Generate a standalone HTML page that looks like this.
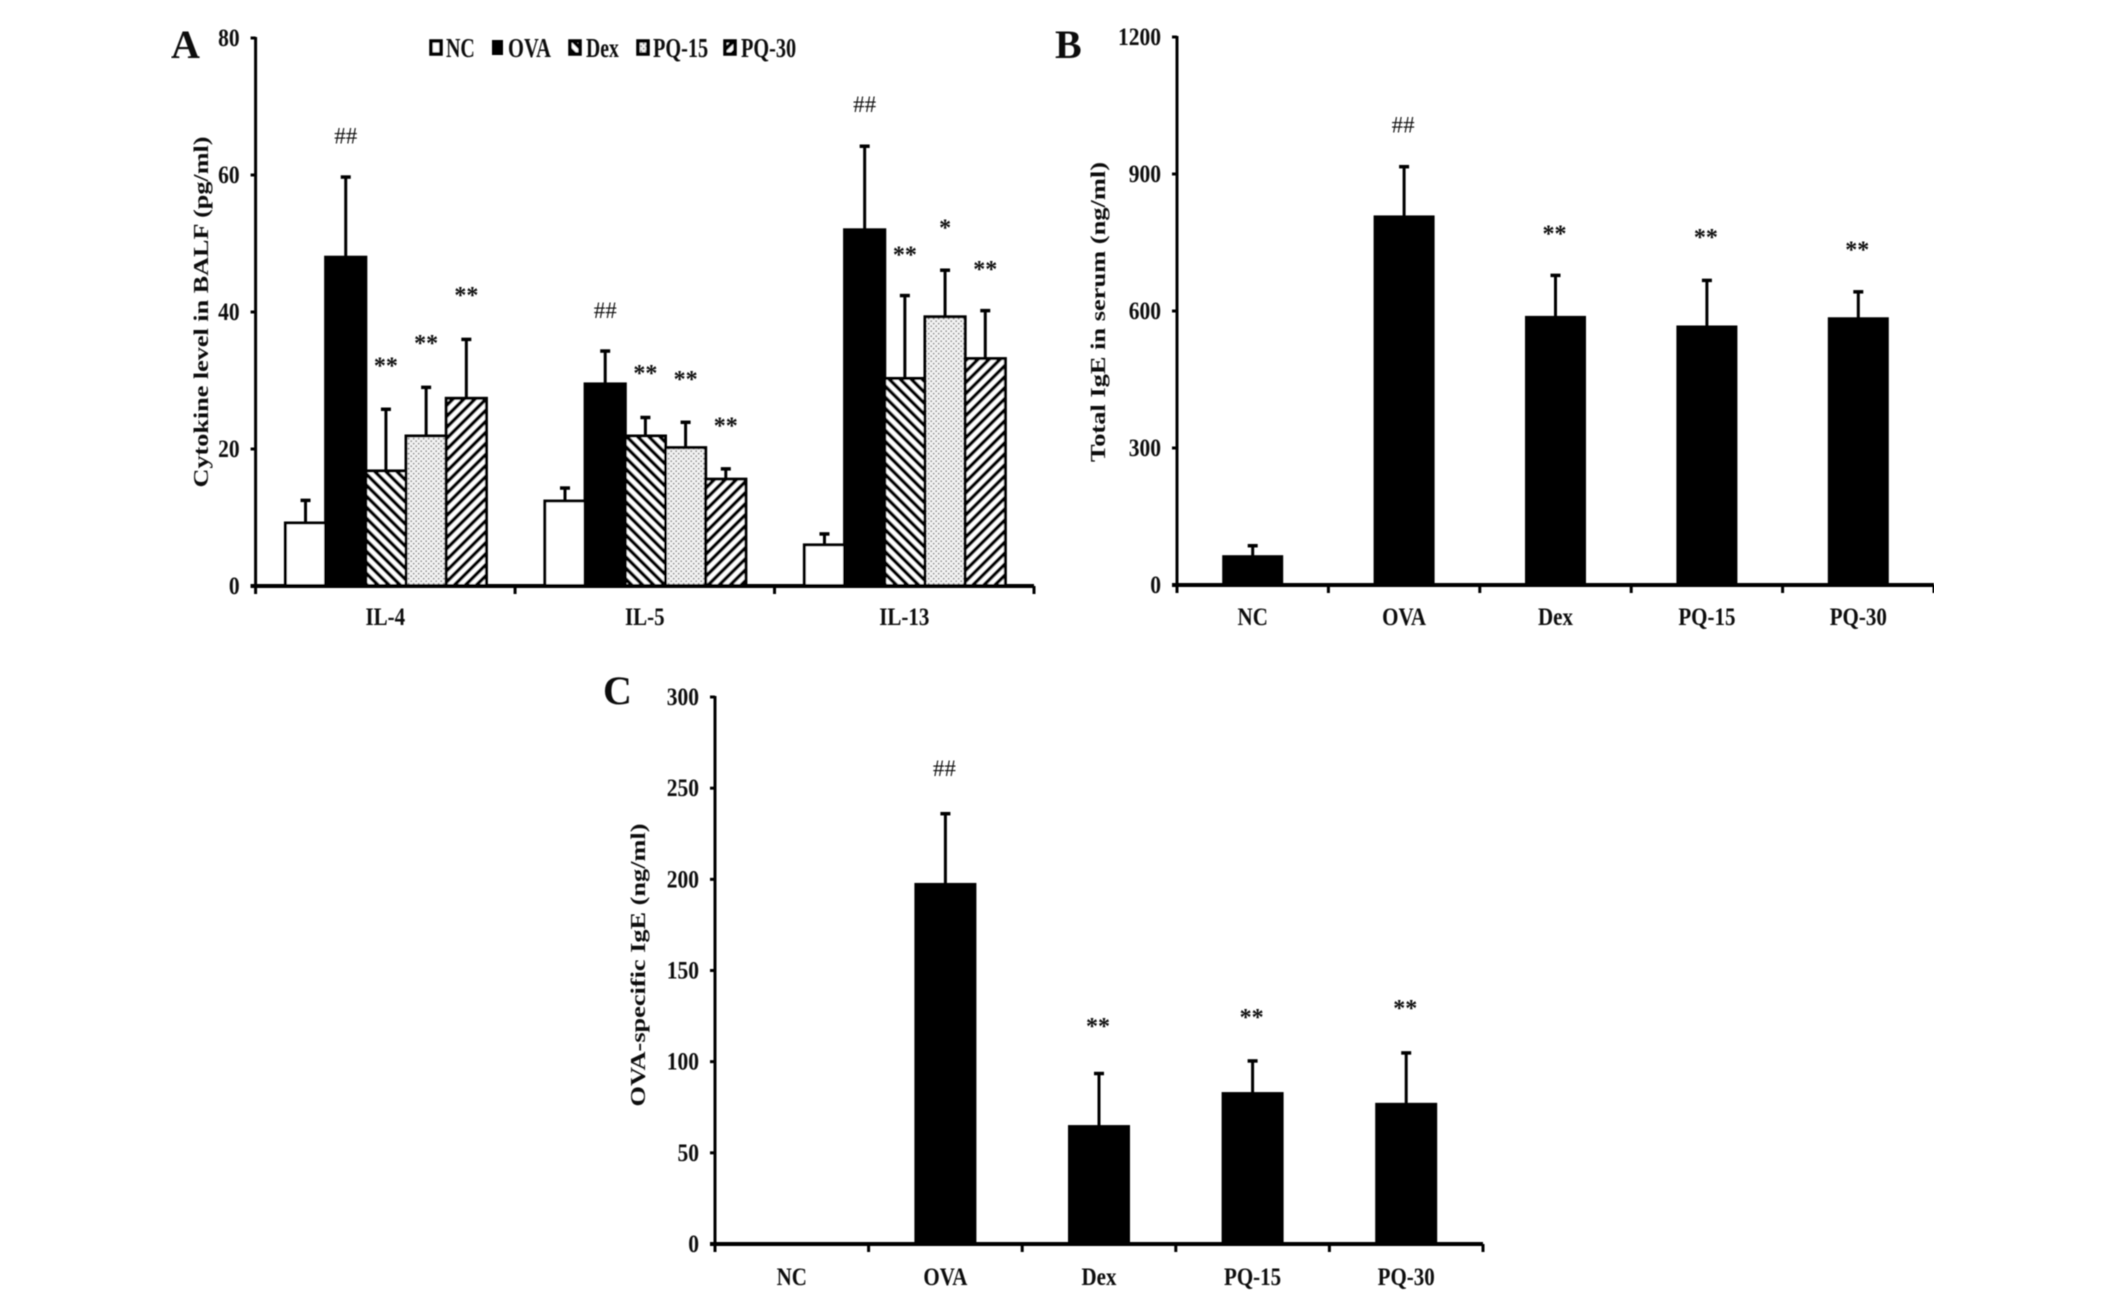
<!DOCTYPE html>
<html lang="en">
<head>
<meta charset="utf-8">
<title>Cytokine and IgE levels</title>
<style>
html,body{margin:0;padding:0;background:#fff;width:2126px;height:1304px;overflow:hidden}
svg{display:block}
text{font-family:"Liberation Serif",serif;font-weight:bold;fill:#111}
</style>
</head>
<body>
<svg id="figure" xmlns="http://www.w3.org/2000/svg" width="2126" height="1304" viewBox="0 0 2126 1304">
  <defs>
    <pattern id="hatch-dex" width="7.8" height="7.8" patternUnits="userSpaceOnUse" patternTransform="rotate(-45)">
      <rect width="7.8" height="7.8" fill="#fff"/><rect width="3.6" height="7.8" fill="#000"/>
    </pattern>
    <pattern id="hatch-pq30" width="7.8" height="7.8" patternUnits="userSpaceOnUse" patternTransform="rotate(45)">
      <rect width="7.8" height="7.8" fill="#fff"/><rect width="3.6" height="7.8" fill="#000"/>
    </pattern>
    <pattern id="dots-pq15" width="5" height="5" patternUnits="userSpaceOnUse">
      <rect width="5" height="5" fill="#f3f3f3"/>
      <circle cx="1.2" cy="1.2" r="0.9" fill="#8a8a8a"/><circle cx="3.7" cy="3.7" r="0.9" fill="#8a8a8a"/>
    </pattern>
    <filter id="soft" x="0" y="0" width="100%" height="100%"><feGaussianBlur stdDeviation="0.6"/></filter>
  </defs>
  <g filter="url(#soft)">
    <g id="panel-a"></g>
    <g id="panel-b"></g>
    <g id="panel-c"></g>

    <text x="171" y="58" font-size="40">A</text>
    <text x="1055" y="58" font-size="40">B</text>
    <text x="603" y="704" font-size="40">C</text>

    <text transform="translate(208,312) rotate(-90)" text-anchor="middle" font-size="21" textLength="351" lengthAdjust="spacingAndGlyphs">Cytokine level in BALF (pg/ml)</text>
    <text transform="translate(1105,312) rotate(-90)" text-anchor="middle" font-size="21" textLength="300" lengthAdjust="spacingAndGlyphs">Total IgE in serum (ng/ml)</text>
    <text transform="translate(645,965) rotate(-90)" text-anchor="middle" font-size="21" textLength="283" lengthAdjust="spacingAndGlyphs">OVA-specific IgE (ng/ml)</text>

    <g>
      <rect x="431" y="41" width="10" height="13" fill="#fff" stroke="#000" stroke-width="3.5"/>
      <text transform="translate(446,57) scale(0.74,1)" font-size="27">NC</text>
      <rect x="493" y="41" width="9" height="13" fill="#000" stroke="#000" stroke-width="2"/>
      <text transform="translate(508,57) scale(0.76,1)" font-size="27">OVA</text>
      <rect x="570" y="41" width="10" height="13" fill="url(#hatch-dex)" stroke="#000" stroke-width="3.5"/>
      <text transform="translate(586,57) scale(0.73,1)" font-size="27">Dex</text>
      <rect x="638" y="41" width="10" height="13" fill="url(#dots-pq15)" stroke="#000" stroke-width="3.5"/>
      <text transform="translate(653,57) scale(0.75,1)" font-size="27">PQ-15</text>
      <rect x="725" y="41" width="10" height="13" fill="url(#hatch-pq30)" stroke="#000" stroke-width="3.5"/>
      <text transform="translate(741,57) scale(0.75,1)" font-size="27">PQ-30</text>
    </g>
  </g>
</svg>
<script>
// ---------- Panel A data ----------
const aCategories = ['IL-4', 'IL-5', 'IL-13'];
const aSeriesNames = ['nc', 'ova', 'dex', 'pq15', 'pq30'];
const aTicks = [0, 20, 40, 60, 80];
const aNC   = [9.2, 12.4, 6.0];
const aOVA  = [48.0, 29.5, 52.0];
const aDex  = [16.8, 21.9, 30.3];
const aPQ15 = [21.9, 20.2, 39.3];
const aPQ30 = [27.4, 15.6, 33.2];
const aNCTop   = [12.5, 14.3, 7.6];
const aOVATop  = [59.7, 34.3, 64.2];
const aDexTop  = [25.8, 24.6, 42.4];
const aPQ15Top = [29.0, 23.9, 46.1];
const aPQ30Top = [36.0, 17.1, 40.2];
const aOVAMark  = ['##', '##', '##'];
const aDexMark  = ['**', '**', '**'];
const aPQ15Mark = ['**', '**', '*'];
const aPQ30Mark = ['**', '**', '**'];
const aOVAMarkAt  = [65.8, 40.3, 70.4];
const aDexMarkAt  = [32.5, 31.4, 48.7];
const aPQ15MarkAt = [35.8, 30.5, 52.6];
const aPQ30MarkAt = [42.8, 23.7, 46.6];

// ---------- Panel B data ----------
const bCategories = ['NC', 'OVA', 'Dex', 'PQ-15', 'PQ-30'];
const bTicks = [0, 300, 600, 900, 1200];
const bValues = [62, 806, 586, 565, 583];
const bTops = [86, 916, 678, 667, 642];
const bMarks = ['', '##', '**', '**', '**'];
const bMarkAt = [0, 1008, 774, 766, 739];

// ---------- Panel C data ----------
const cCategories = ['NC', 'OVA', 'Dex', 'PQ-15', 'PQ-30'];
const cTicks = [0, 50, 100, 150, 200, 250, 300];
const cValues = [0, 197.2, 64.4, 82.5, 76.6];
const cTops = [0, 236, 93.5, 100.4, 104.8];
const cMarks = ['', '##', '**', '**', '**'];
const cMarkAt = [0, 261, 120.7, 125.6, 130.4];

const NS = 'http://www.w3.org/2000/svg';
function make(parent, tag, attrs, content) {
  const el = document.createElementNS(NS, tag);
  for (const k in attrs) el.setAttribute(k, attrs[k]);
  if (content !== undefined) el.textContent = content;
  parent.appendChild(el);
  return el;
}
function scaleY(p, v) { return p.y0 - (v / p.max) * (p.y0 - p.yTop); }
const barFills = { nc: '#fff', ova: '#000', dex: 'url(#hatch-dex)', pq15: 'url(#dots-pq15)', pq30: 'url(#hatch-pq30)' };

function drawBar(g, p, left, w, value, top, fill, id) {
  const yV = scaleY(p, value);
  const yT = scaleY(p, top);
  const cx = left + w / 2;
  const stem = make(g, 'line', { x1: cx, x2: cx, y1: yV, y2: yT, stroke: '#000', 'stroke-width': 3 });
  
  
  const cap = make(g, 'line', { x1: cx - 5, x2: cx + 5, y1: yT, y2: yT, stroke: '#000', 'stroke-width': 3.5 });
  
  
  const bar = make(g, 'rect', { x: left, y: yV, width: w, height: p.y0 - yV, fill: fill, stroke: '#000', 'stroke-width': 3 });
  
  
}

function drawMark(g, cx, p, at, label, id) {
  if (!label) return;
  const y = scaleY(p, at);
  const isHash = label.charAt(0) === '#';
  const size = isHash ? 23 : 24;
  const t = make(g, 'text', {
    x: cx, y: y + (isHash ? 8 : 10), 'text-anchor': 'middle', 'font-size': size,
    style: isHash ? 'font-weight:normal' : ''
  }, label);
  
  
}

function drawAxes(g, p, ticks, categories, tickCount) {
  const yAxis = make(g, 'line', { x1: p.x0, x2: p.x0, y1: p.yTop - 1, y2: p.y0 + 2, stroke: '#000', 'stroke-width': 3 });
  
  
  const xAxis = make(g, 'line', { x1: p.x0 - 5, x2: p.x1, y1: p.y0, y2: p.y0, stroke: '#000', 'stroke-width': 4 });
  
  
  ticks.forEach(function (v) {
    const y = scaleY(p, v);
    const tk = make(g, 'line', { x1: p.x0 - 5, x2: p.x0, y1: y, y2: y, stroke: '#000', 'stroke-width': 3 });
    
    
    const lb = make(g, 'text', {
      transform: 'translate(' + (p.x0 - 16) + ',' + (y + 8) + ') scale(0.86,1)',
      'text-anchor': 'end', 'font-size': 25
    }, String(v));
    
    
  });
  const step = (p.x1 - p.x0) / tickCount;
  for (let i = 0; i <= tickCount; i++) {
    const x = p.x0 + i * step;
    const tk = make(g, 'line', { x1: x, x2: x, y1: p.y0, y2: p.y0 + 8, stroke: '#000', 'stroke-width': 3 });
    
    
  }
  categories.forEach(function (c, i) {
    const x = p.x0 + (i + 0.5) * step;
    const lb = make(g, 'text', {
      transform: 'translate(' + x + ',' + p.labelY + ') scale(0.84,1)',
      'text-anchor': 'middle', 'font-size': 25
    }, c);
    
    
  });
}

function drawPanelA() {
  const g = document.getElementById('panel-a');
  const p = { x0: 255.6, x1: 1034, y0: 586, yTop: 38, max: 80, labelY: 625 };
  const values = [aNC, aOVA, aDex, aPQ15, aPQ30];
  const tops = [aNCTop, aOVATop, aDexTop, aPQ15Top, aPQ30Top];
  const marks = [null, aOVAMark, aDexMark, aPQ15Mark, aPQ30Mark];
  const markAt = [null, aOVAMarkAt, aDexMarkAt, aPQ15MarkAt, aPQ30MarkAt];
  const groupW = (p.x1 - p.x0) / aCategories.length;
  const barW = 40.2;
  aCategories.forEach(function (cat, ci) {
    const start = p.x0 + ci * groupW + (groupW - barW * aSeriesNames.length) / 2 + 0.6;
    aSeriesNames.forEach(function (s, si) {
      const left = start + si * barW;
      const id = cat.toLowerCase() + '-' + s;
      drawBar(g, p, left, barW, values[si][ci], tops[si][ci], barFills[s], id);
      if (marks[si]) drawMark(g, left + barW / 2, p, markAt[si][ci], marks[si][ci], id);
    });
  });
  drawAxes(g, p, aTicks, aCategories, aCategories.length);
}

function drawSimple(gid, p, categories, ticks, values, tops, labels, labelAt, barW) {
  const g = document.getElementById(gid);
  const step = (p.x1 - p.x0) / categories.length;
  categories.forEach(function (cat, i) {
    const cx = p.x0 + (i + 0.5) * step;
    const id = cat.toLowerCase();
    if (values[i] > 0) drawBar(g, p, cx - barW / 2, barW, values[i], tops[i], '#000', id);
    drawMark(g, cx - 1, p, labelAt[i], labels[i], id);
  });
  drawAxes(g, p, ticks, categories, categories.length);
}

drawPanelA();
drawSimple('panel-b', { x0: 1177, x1: 1934, y0: 585, yTop: 37, max: 1200, labelY: 625 },
  bCategories, bTicks, bValues, bTops, bMarks, bMarkAt, 58);
drawSimple('panel-c', { x0: 715, x1: 1483, y0: 1244, yTop: 697, max: 300, labelY: 1285 },
  cCategories, cTicks, cValues, cTops, cMarks, cMarkAt, 59);
</script>
</body>
</html>
